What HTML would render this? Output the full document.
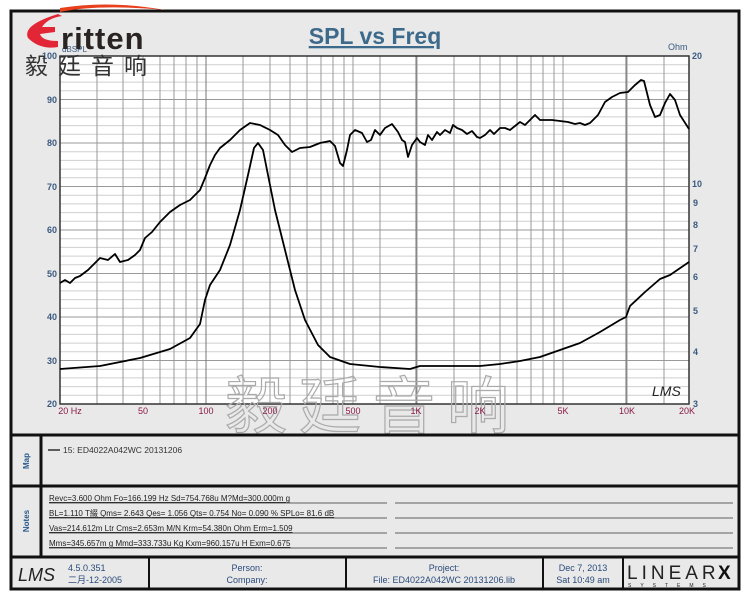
<!DOCTYPE html>
<html><head><meta charset="utf-8"><style>
body{margin:0;background:#fff;width:750px;height:600px;overflow:hidden}
text{font-family:"Liberation Sans","Noto Sans CJK SC",sans-serif}
</style></head><body>
<svg width="750" height="600" xmlns="http://www.w3.org/2000/svg">
<rect x="11" y="11" width="728" height="578" fill="#e9e9e9" stroke="#111" stroke-width="3"/>
<text x="375" y="44" font-size="23" font-weight="bold" fill="#3d6a8a" text-anchor="middle" text-decoration="underline">SPL vs Freq</text>
<!-- plot -->
<rect x="60" y="56" width="629" height="348" fill="#fff"/>
<g stroke="#cfcfcf" stroke-width="1">
<path d="M60 64.7H689M60 73.4H689M60 82.1H689M60 90.8H689M60 108.2H689M60 116.9H689M60 125.6H689M60 134.3H689M60 151.7H689M60 160.4H689M60 169.1H689M60 177.8H689M60 195.2H689M60 203.9H689M60 212.6H689M60 221.3H689M60 238.7H689M60 247.4H689M60 256.1H689M60 264.8H689M60 282.2H689M60 290.9H689M60 299.6H689M60 308.3H689M60 325.7H689M60 334.4H689M60 343.1H689M60 351.8H689M60 369.2H689M60 377.9H689M60 386.6H689M60 395.3H689"/>
</g>
<g stroke="#999" stroke-width="1">
<path d="M60 99.5H689M60 143H689M60 186.5H689M60 230H689M60 273.5H689M60 317H689M60 360.5H689"/>
<path d="M97 56V404M123 56V404M143 56V404M160 56V404M174 56V404M186 56V404M197 56V404M206 56V404M243 56V404M270 56V404M290 56V404M307 56V404M321 56V404M333 56V404M344 56V404M353 56V404M380 56V404M417 56V404M454 56V404M480 56V404M500 56V404M517 56V404M531 56V404M543 56V404M554 56V404M563 56V404M627 56V404M664 56V404"/>
<path d="M206 56V404M416 56V404M626 56V404" stroke="#777"/>
</g>
<rect x="60" y="56" width="629" height="348" fill="none" stroke="#333" stroke-width="1.5"/>
<!-- watermark -->
<text x="225" y="428" font-size="62" fill="none" stroke="#aaa" stroke-width="1.2" letter-spacing="12" font-family="'Noto Serif CJK SC',serif">毅廷音响</text>
<polyline fill="none" stroke="#000" stroke-width="1.8" stroke-linejoin="round" points="60,283 65,280 70,283 75,278 80,276 88,270 95,263 100,258 108,260 115,254 120,262 128,260 135,255 140,250 145,238 152,232 160,222 170,212 180,205 190,200 200,190 205,178 210,165 215,155 220,148 230,140 240,130 250,123 260,125 270,130 278,135 285,145 292,152 300,148 310,147 320,143 330,141 335,146 340,163 343,166 347,150 350,135 355,130 362,133 367,142 371,140 375,130 380,135 385,128 392,124 398,132 402,140 405,142 408,157 412,145 417,138 420,142 425,145 428,135 432,140 437,132 440,135 445,130 450,133 453,125 457,128 462,130 467,134 472,131 477,137 480,138 485,135 490,130 494,134 500,128 505,128 510,130 515,126 520,122 525,125 530,120 535,115 540,120 545,120 552,120 560,121 568,122 575,124 580,123 585,125 590,123 598,115 605,102 612,97 620,93 628,92 635,85 641,80 644,81 650,105 655,117 660,115 665,103 670,94 675,100 680,115 689,129"/>
<polyline fill="none" stroke="#000" stroke-width="1.8" stroke-linejoin="round" points="60,369 100,366 140,358 170,349 190,338 200,324 205,300 210,285 220,270 230,245 240,210 248,175 254,148 258,143 263,150 268,175 275,210 285,250 295,290 305,320 318,345 330,357 350,364 380,367 410,369 420,366 440,366 480,366 500,364 520,361 540,357 560,350 580,343 600,332 620,320 626,317 630,306 645,292 660,279 670,275 689,262"/>
<text x="652" y="396" font-size="14" font-style="italic" fill="#222">LMS</text>
<!-- axis labels -->
<g font-size="9" font-weight="bold" fill="#3a5a80" text-anchor="end">
<text x="57" y="59">100</text><text x="57" y="103">90</text><text x="57" y="146">80</text><text x="57" y="190">70</text><text x="57" y="233">60</text><text x="57" y="277">50</text><text x="57" y="320">40</text><text x="57" y="364">30</text><text x="57" y="407">20</text>
</g>
<text x="62" y="52" font-size="8" fill="#3a5a80">dBSPL</text>
<text x="668" y="50" font-size="9" fill="#3a5a80">Ohm</text>
<g font-size="9" font-weight="bold" fill="#3a5a80">
<text x="692" y="59">20</text><text x="692" y="187">10</text><text x="693" y="206">9</text><text x="693" y="228">8</text><text x="693" y="252">7</text><text x="693" y="280">6</text><text x="693" y="314">5</text><text x="693" y="355">4</text><text x="693" y="407">3</text>
</g>
<g font-size="9" fill="#8b1a4a" text-anchor="middle">
<text x="70" y="414">20 Hz</text><text x="143" y="414">50</text><text x="206" y="414">100</text><text x="270" y="414">200</text><text x="353" y="414">500</text><text x="416" y="414">1K</text><text x="480" y="414">2K</text><text x="563" y="414">5K</text><text x="627" y="414">10K</text><text x="687" y="414">20K</text>
</g>
<!-- logo (on top) -->
<path d="M60 8 Q110 0 165 10 Q100 4 60 12Z" fill="#e8401c"/>
<path d="M58 14 Q22 25 28 38 Q40 50 58 47 L58 41 Q42 41 40 34 L55 32 L55 27 L42 27 Q48 18 62 16Z" fill="#e32636"/>
<text x="61" y="49" font-size="31" font-weight="bold" fill="#2a2323" letter-spacing="1">ritten</text>
<text x="25" y="74" font-size="23" fill="#333" letter-spacing="10" font-family="'Noto Sans CJK SC',sans-serif">毅廷音响</text>
<!-- lower panels -->
<path d="M11 435H739M11 486H739M11 557H739M41 435V557" stroke="#111" stroke-width="3"/>
<text transform="translate(29,461) rotate(-90)" font-size="8" font-weight="bold" fill="#2a5a8a" text-anchor="middle">Map</text>
<text transform="translate(29,521) rotate(-90)" font-size="8" font-weight="bold" fill="#2a5a8a" text-anchor="middle">Notes</text>
<path d="M48 450H60" stroke="#000" stroke-width="1.2"/>
<text x="63" y="453" font-size="8.5" fill="#333">15: ED4022A042WC     20131206</text>
<g font-size="8" fill="#222" text-decoration="underline">
<text x="49" y="501">Revc=3.600 Ohm  Fo=166.199 Hz  Sd=754.768u M?Md=300.000m g</text>
<text x="49" y="516">BL=1.110 T綴  Qms= 2.643  Qes= 1.056  Qts= 0.754  No= 0.090 %  SPLo= 81.6 dB</text>
<text x="49" y="531">Vas=214.612m Ltr  Cms=2.653m M/N  Krm=54.380n Ohm  Erm=1.509</text>
<text x="49" y="546">Mms=345.657m g  Mmd=333.733u Kg  Kxm=960.157u H  Exm=0.675</text>
</g>
<path d="M49 503H387M395 503H733M49 518H387M395 518H733M49 533H387M395 533H733M49 548H387M395 548H733" stroke="#333" stroke-width="0.8"/>
<!-- footer -->
<rect x="11" y="557" width="728" height="32" fill="#e9e9e9" stroke="#111" stroke-width="3"/>
<path d="M149 558V588M346 558V588M543 558V588M623 558V588" stroke="#111" stroke-width="2"/>
<text x="18" y="581" font-size="18" font-style="italic" fill="#222">LMS</text>
<g font-size="9" fill="#2a4a7a">
<text x="68" y="571">4.5.0.351</text><text x="68" y="583">二月-12-2005</text>
</g>
<g font-size="9" fill="#2a4a7a" text-anchor="middle">
<text x="247" y="571">Person:</text><text x="247" y="583">Company:</text>
<text x="444" y="571">Project:</text><text x="444" y="583">File: ED4022A042WC 20131206.lib</text>
<text x="583" y="571">Dec  7, 2013</text><text x="583" y="583">Sat 10:49 am</text>
</g>
<text x="627" y="579" font-size="19" fill="#222" letter-spacing="4" font-family="'Liberation Serif',serif">LINEAR</text>
<text x="718" y="579" font-size="19" font-weight="bold" fill="#111">X</text>
<text x="628" y="587" font-size="5" fill="#222" letter-spacing="9">SYSTEMS</text>
</svg>
</body></html>
